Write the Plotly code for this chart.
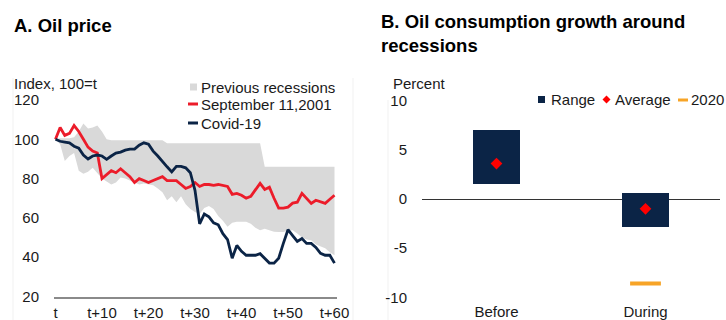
import plotly.graph_objects as go

W, H = 726, 320

# ---- Panel A: oil price, index 100 = t ----
days = list(range(61))
tick_vals = [0, 10, 20, 30, 40, 50, 60]
tick_text = ["t", "t+10", "t+20", "t+30", "t+40", "t+50", "t+60"]

prev_upper = [100, 100.5, 100.5, 100.5, 101, 104, 108, 105.5, 106, 107,
              104, 100, 99.5, 99.5, 99.5, 99.5, 99.5, 99.5, 99.5, 99.5,
              99.5, 99.5, 99.5, 99.5, 98, 98, 98, 98, 98, 98,
              98, 98, 98, 98, 98, 98, 98, 98, 98, 98,
              98, 98, 98, 98, 98, 86, 86, 86, 86, 86,
              86, 86, 86, 86, 86, 86, 86, 86, 86, 86, 86]
prev_lower = [100, 97.5, 89, 91.5, 93, 84, 82.5, 83.5, 85.5, 83,
              80, 78.5, 77, 78, 80.5, 80, 79, 78, 77, 77.5,
              77, 76.6, 75, 73, 69, 71, 68, 71, 67, 64.5,
              63, 62, 65, 66, 64.5, 61, 58.5, 55.5, 57.5, 58,
              58, 58, 57, 55, 53.7, 54.5, 53.7, 53, 52.8, 52.8,
              53.5, 53.7, 52, 50, 49, 48.6, 46.5, 45.5, 44.5, 42.5, 41]
sept11 = [100, 106, 102, 103, 107, 104, 100, 96, 94, 93,
          80, 82, 84, 83, 85, 83, 81, 78, 80, 79,
          78, 79, 80, 81, 79, 79, 79, 77, 75, 76,
          78, 76, 77, 77, 76.6, 77, 76.5, 76, 72, 72.5,
          71.5, 70, 71, 74, 77.6, 74.5, 75.6, 70, 65, 65,
          65.5, 67.5, 68, 72.5, 70, 67.4, 69, 68, 67.4, 69.5, 71.5]
covid = [100, 99, 98.6, 98.2, 96.5, 95.5, 92, 90, 91.5, 92,
         91.5, 89.8, 91.5, 93, 93.5, 94.5, 95, 95, 97, 98.2,
         97.5, 94, 91.5, 89, 86, 83.4, 86.2, 86.2, 85.5, 83,
         74, 57, 62, 60.5, 57.5, 56.5, 52, 49, 39.5, 46,
         43, 41, 41, 41, 41.8, 39.5, 37, 37, 39.5, 47,
         54, 51, 48, 49.5, 47, 47, 45, 42, 41, 41, 37]

# ---- Panel B: oil consumption growth around recessions, percent ----
periods = ["Before", "During"]
range_low = [1.6, -2.85]
range_high = [7.1, 0.65]
average = [3.6, -1.0]
growth_2020 = [None, -8.6]

NAVY = "#0b2446"
RED = "#ec1c2a"
GREY_BAND = "#d9d9d9"
ORANGE = "#f7a427"
FONT = "Liberation Sans, Arial, sans-serif"


def px(x):
    return x / W


def py(y):
    return 1 - y / H


fig = go.Figure()

fig.add_trace(go.Scatter(x=days, y=prev_lower, mode="lines",
                         line=dict(width=0, color=GREY_BAND),
                         showlegend=False, hoverinfo="skip",
                         xaxis="x", yaxis="y"))
fig.add_trace(go.Scatter(x=days, y=prev_upper, mode="lines",
                         line=dict(width=0, color=GREY_BAND),
                         fill="tonexty", fillcolor=GREY_BAND,
                         name="Previous recessions", showlegend=False,
                         xaxis="x", yaxis="y"))
fig.add_trace(go.Scatter(x=days, y=sept11, mode="lines",
                         line=dict(width=2.8, color=RED),
                         name="September 11,2001", showlegend=False,
                         xaxis="x", yaxis="y"))
fig.add_trace(go.Scatter(x=days, y=covid, mode="lines",
                         line=dict(width=2.8, color=NAVY),
                         name="Covid-19", showlegend=False,
                         xaxis="x", yaxis="y"))

fig.add_trace(go.Bar(x=periods,
                     y=[h - l for h, l in zip(range_high, range_low)],
                     base=range_low, width=0.31,
                     marker=dict(color=NAVY, line=dict(width=0)),
                     name="Range", showlegend=False,
                     xaxis="x2", yaxis="y2"))
fig.add_trace(go.Scatter(x=periods, y=average, mode="markers",
                         marker=dict(symbol="diamond", size=9, color="#ff0000"),
                         name="Average", showlegend=False,
                         xaxis="x2", yaxis="y2"))
fig.add_trace(go.Scatter(x=periods, y=growth_2020, mode="markers",
                         marker=dict(symbol="line-ew", size=22,
                                     line=dict(width=4, color=ORANGE)),
                         name="2020", showlegend=False,
                         xaxis="x2", yaxis="y2"))

tickfont = dict(family=FONT, size=15, color="#1a1a1a")
hidden_ticks = dict(ticks="outside", tickcolor="rgba(0,0,0,0)",
                    automargin=False)

fig.update_layout(
    width=W, height=H,
    margin=dict(l=0, r=0, t=0, b=0, autoexpand=False),
    paper_bgcolor="white", plot_bgcolor="white",
    showlegend=False,
    font=dict(family=FONT, size=15, color="#1a1a1a"),
    xaxis=dict(domain=[px(54), px(337)], range=[-0.32, 60.54],
               tickvals=tick_vals, ticktext=tick_text, tickfont=tickfont,
               showgrid=False, zeroline=False,
               showline=True, linecolor="#8a8a8a", linewidth=2,
               ticklen=1, **hidden_ticks),
    yaxis=dict(domain=[py(296.5), py(100)], range=[20, 120],
               tickvals=[20, 40, 60, 80, 100, 120], tickfont=tickfont,
               showgrid=False, zeroline=False, showline=False,
               ticklen=11, **hidden_ticks),
    xaxis2=dict(domain=[px(422), px(720)], range=[-0.5, 1.5],
                type="category", anchor="y2", tickfont=tickfont,
                showgrid=False, zeroline=False, showline=False,
                ticklen=1, **hidden_ticks),
    yaxis2=dict(domain=[py(297.3), py(100.7)], range=[-10, 10],
                anchor="x2", tickvals=[-10, -5, 0, 5, 10],
                ticktext=["-10", "-5", "0", "5", "10"], tickfont=tickfont,
                showgrid=False, showline=False,
                zeroline=True, zerolinecolor="#333333", zerolinewidth=1,
                ticklen=11, **hidden_ticks),
    bargap=0,
)

annotations = [
    dict(text="<b>A. Oil price</b>", x=px(12), y=py(25),
         font=dict(size=18.5, color="#000000")),
    dict(text="<b>B. Oil consumption growth around<br>recessions</b>",
         x=px(379), y=py(34), align="left",
         font=dict(size=18.5, color="#000000")),
    dict(text="Index, 100=t", x=px(12), y=py(84)),
    dict(text="Percent", x=px(391), y=py(84)),
    dict(text="Previous recessions", x=px(199), y=py(87)),
    dict(text="September 11,2001", x=px(199), y=py(104.5)),
    dict(text="Covid-19", x=px(199), y=py(123)),
    dict(text="Range", x=px(548.5), y=py(99.5)),
    dict(text="Average", x=px(612.5), y=py(99.5)),
    dict(text="2020", x=px(688.5), y=py(99.5)),
]
for a in annotations:
    a.setdefault("font", dict(size=15, color="#1a1a1a"))
    a["font"].setdefault("family", FONT)
    fig.add_annotation(xref="paper", yref="paper", xanchor="left",
                       yanchor="middle", showarrow=False, **a)

shapes = [
    # faint panel borders
    dict(type="line", x0=px(13), x1=px(13), y0=py(78), y1=py(320),
         line=dict(color="#f1f1f1", width=1)),
    dict(type="line", x0=px(353), x1=px(353), y0=py(78), y1=py(320),
         line=dict(color="#f1f1f1", width=1)),
    dict(type="line", x0=px(388), x1=px(388), y0=py(100), y1=py(320),
         line=dict(color="#f1f1f1", width=1)),
    # legend keys, panel A
    dict(type="rect", x0=px(190), x1=px(197), y0=py(90.5), y1=py(83.5),
         fillcolor=GREY_BAND, line=dict(width=0)),
    dict(type="line", x0=px(188), x1=px(198), y0=py(104), y1=py(104),
         line=dict(color=RED, width=3)),
    dict(type="line", x0=px(188), x1=px(198), y0=py(123), y1=py(123),
         line=dict(color=NAVY, width=3)),
    # legend keys, panel B
    dict(type="rect", x0=px(538), x1=px(545), y0=py(103), y1=py(96),
         fillcolor=NAVY, line=dict(width=0)),
    dict(type="path",
         path=f"M {px(602.5)},{py(99.5)} L {px(606.5)},{py(95.5)} "
              f"L {px(610.5)},{py(99.5)} L {px(606.5)},{py(103.5)} Z",
         fillcolor="#ff0000", line=dict(width=0)),
    dict(type="line", x0=px(678), x1=px(688), y0=py(100), y1=py(100),
         line=dict(color=ORANGE, width=3)),
]
for s in shapes:
    fig.add_shape(xref="paper", yref="paper", layer="below", **s)

fig.write_html("out.html")
